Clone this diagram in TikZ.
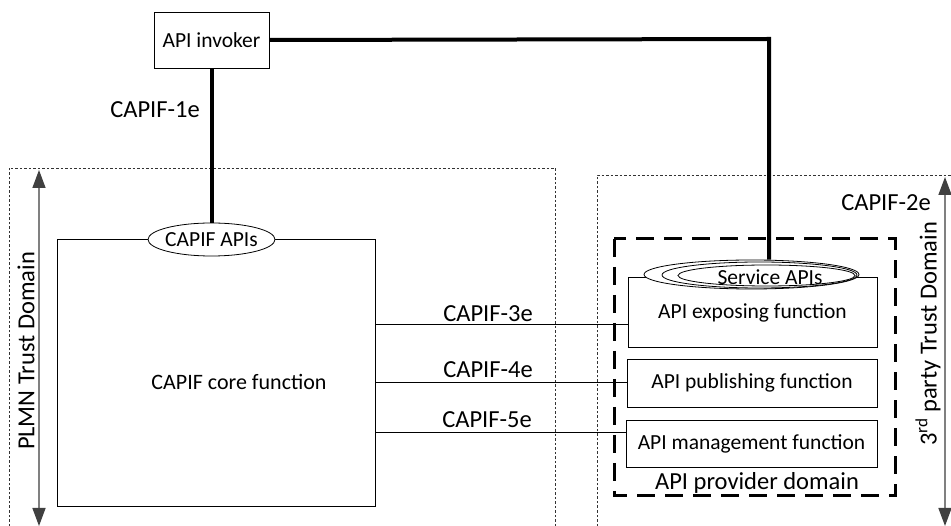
\documentclass[tikz,border=0pt]{standalone}
\usepackage{fontspec}
\setmainfont{Carlito}
\usetikzlibrary{arrows.meta,shapes.geometric}
\begin{document}
\begin{tikzpicture}[x=1pt,y=1pt,
  boxtxt/.style={font=\fontsize{21.5}{25}\selectfont},
  lbl/.style={font=\fontsize{24.5}{28}\selectfont, inner sep=0pt},
  fbox/.style={draw=black, line width=0.8pt, fill=white, inner sep=0pt, boxtxt},
  apiell/.style={ellipse, draw=black, line width=0.8pt, fill=white, inner sep=0pt},
  heavy/.style={line width=4pt},
  thinline/.style={line width=1pt},
  trustdom/.style={draw=black!80, line width=0.8pt, dash pattern=on 2.5pt off 2pt},
  provdom/.style={draw=black, line width=3pt, dash pattern=on 18pt off 10pt},
  domarrow/.style={draw=black!50, line width=1.5pt,
    {Triangle[length=18pt,width=13pt,color=black!75]}-{Triangle[length=18pt,width=13pt,color=black!75]}}
]
\useasboundingbox (0,0) rectangle (951,-526);

% trust domains
\draw[trustdom] (9,-526) -- (9,-168) -- (555,-168) -- (555,-526);
\draw[trustdom] (597,-526) -- (597,-175) -- (951,-175);
\coordinate (pt) at (39,-170);
\coordinate (pb) at (39,-526);
\draw[domarrow] (pt) -- (pb);
\coordinate (tt) at (945,-177);
\coordinate (tb) at (945,-526);
\draw[domarrow] (tt) -- (tb);
\node[lbl, rotate=90] (plmn) at (26,-351) {PLMN Trust Domain};
\node[lbl, rotate=90] (third) at (928,-334) {3\textsuperscript{rd} party Trust Domain};

% API provider domain
\draw[provdom] (614,-239) rectangle (895,-496);
\node[lbl] (provlbl) at (757,-483) {API provider domain};

% boxes
\node[fbox, minimum width=115pt, minimum height=56pt] (inv) at (211.5,-40) {API invoker};
\node[fbox, minimum width=318pt, minimum height=267pt] (core) at (216,-372.5) {};
\node[font=\fontsize{22}{26}\selectfont] (coretxt) at (239,-382) {CAPIF core function};
\node[fbox, minimum width=249pt, minimum height=70pt] (expo) at (752.5,-312) {};
\node[boxtxt] (expotxt) at (752.5,-313) {API exposing function};
\node[fbox, minimum width=250pt, minimum height=48pt] (pub) at (752,-383) {API publishing function};
\node[fbox, minimum width=251pt, minimum height=47pt] (mgmt) at (751.5,-443.5) {API management function};

% thick connectors
\coordinate (bend) at (769,-39);
\node[apiell, minimum width=127pt, minimum height=33pt] (capis) at (211.5,-239.5) {};
\node[boxtxt, inner sep=0pt] (capistxt) at (211.5,-240) {CAPIF APIs};
\node[apiell, minimum width=215pt, minimum height=29pt] (sapi1) at (751.5,-274.5) {};
\node[apiell, minimum width=195pt, minimum height=26pt] (sapi2) at (759.5,-275) {};
\node[apiell, minimum width=177pt, minimum height=21pt] (sapi3) at (766.5,-275.5) {};
\node[boxtxt, inner sep=0pt] (sapitxt) at (770,-277) {Service APIs};

\draw[heavy] (inv.south) -- (capis.north);
\draw[heavy] (inv.east) -- (bend) -- (bend |- sapi1.north);

% reference points
\coordinate (c3) at (500,-325);
\coordinate (c5) at (500,-433);
\draw[thinline] (core.east |- c3) -- (expo.west |- c3);
\draw[thinline] (core.east |- pub.west) -- (pub.west);
\draw[thinline] (core.east |- c5) -- (mgmt.west |- c5);

% labels
\node[lbl] (l1) at (155,-110) {CAPIF-1e};
\node[lbl] (l2) at (886,-203) {CAPIF-2e};
\node[lbl] (l3) at (488,-314) {CAPIF-3e};
\node[lbl] (l4) at (488,-370) {CAPIF-4e};
\node[lbl] (l5) at (487,-420) {CAPIF-5e};
\end{tikzpicture}
\end{document}
